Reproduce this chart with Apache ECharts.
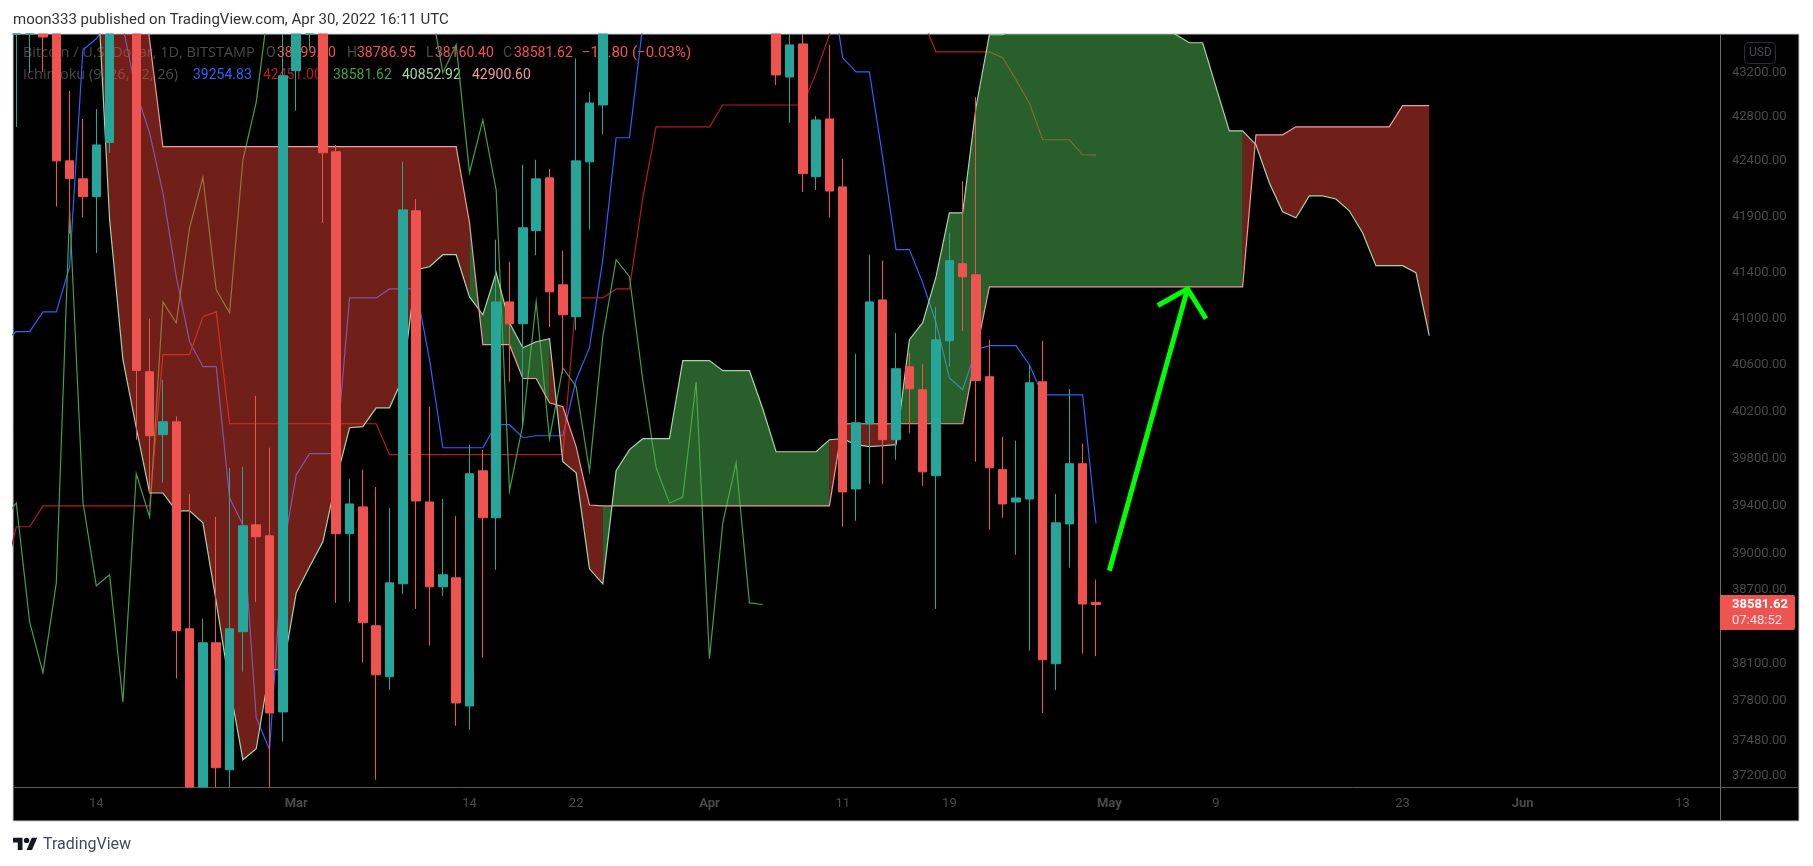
<!DOCTYPE html>
<html><head><meta charset="utf-8"><style>html,body{margin:0;padding:0;background:#fff;overflow:hidden}#c{width:1813px;height:866px}</style>
<script src="https://cdn.jsdelivr.net/npm/echarts@6/dist/echarts.min.js"></script></head>
<body><div id="c"></div>
<script>
// day 0 = 2022-02-07; candle and line arrays are positional by day
const openP=[43700,43650,43650,43900,43900,42400,42238,42078,42566,44000,
44000,40540,40001,40111,38383,37000,38269,37249,38359,39241,
39150,37710,43221,44000,43700,42482,39167,39391,38408,37993,
38752,41952,39432,38727,38802,37758,39695,39300,41147,40956,
41775,42247,41297,41017,42391,42907,44000,44350,44500,46850,
47100,47450,47060,45530,46300,45830,46450,46620,45500,43163,
43468,42258,42780,42166,39542,40094,41164,39958,40583,40385,
39653,40808,41483,41385,40497,39704,39432,39457,40454,38099,
39249,39755,38599.30];
const closeP=[44000,43750,43800,43532,42400,42240,42078,42544,43650,43800,
40552,39992,40111,38367,37000,38269,37265,38383,39233,39142,
37702,43175,43900,43700,42473,39167,39416,38432,38009,38760,
41960,39441,38727,38827,37782,39670,39300,41147,40956,41801,
42238,41235,41034,42400,42925,43700,44350,44500,46850,47100,
47450,47060,45530,46300,45830,46450,46620,45500,43182,43459,
42285,42771,42129,39517,40103,41147,39958,40566,40393,39686,
40817,41509,41367,40463,39720,39416,39466,40445,38131,39258,
39755,38586,38581.62];
const lowP=[43650,42708,43200,43209,41990,41750,41892,41577,42473,43620,
39958,39508,39596,37979,36900,36900,37000,37000,38034,38603,
37000,37472,42855,43410,41845,38595,38603,38107,37170,37887,
38669,38546,38245,38652,37599,37567,38147,38868,40454,40069,
41557,40927,40523,40900,41783,42640,43600,44100,44400,46700,
46950,46550,45200,44200,45600,45500,45100,45400,43090,42744,
42120,42138,41890,39225,39275,39585,39585,39788,40018,39568,
38546,40583,40893,39771,39200,39300,38992,38204,37702,37887,
38885,38180,38160.40];
const highP=[44500,43900,44000,44200,44100,43035,42780,42870,44000,44200,
44300,41000,40471,40156,39500,38465,39307,39720,39729,40333,
39890,43800,44100,44200,43900,42544,39623,39704,39559,39383,
42393,42058,40239,39457,39316,39916,39873,41695,41500,42365,
42410,42328,41598,43335,43024,44100,45100,44800,46900,48200,
48100,47700,47600,46700,47200,47000,47100,47200,45700,43700,
43700,42807,43459,42418,40696,41557,41509,40876,40705,40609,
41103,41757,42217,42979,40817,39983,39950,40601,40808,39500,
40393,39925,38786.95];
const tenkan=[40800,40887,40887,41060,41060,41456,43414,43516,43691,43627,
43026,42654,42112,41368,40800,40584,40584,39466,39242,37663,
37408,39009,39661,39840,39840,39840,41182,41182,41182,41261,
41261,41261,40644,39890,39890,39890,39890,40086,40086,39975,
39992,39992,39992,40471,40748,41518,42609,42609,43645,44100,
44900,45400,45700,46000,46200,46200,46200,46200,46000,45800,
45300,44700,44150,43340,43211,43211,42428,41607,41607,41314,
40965,40487,40385,40731,40766,40766,40766,40601,40341,40341,
40341,40341,39254.83];
const kijun=[38760,39225,39225,39399,39399,39399,39399,39399,39399,39399,
39399,39399,40688,40688,40688,41017,41060,40094,40094,40094,
40094,40094,40094,40094,40094,40094,40094,40094,40094,39831,
39831,39831,39831,39831,39831,39831,39831,39831,39831,39831,
39831,39831,39831,41182,41182,41182,41261,41261,42067,42708,
42708,42708,42708,42708,42907,42907,42907,42907,42907,42907,
42907,43201,43553,44000,44300,44300,44300,44300,44000,43691,
43395,43395,43395,43395,43395,43340,43137,42925,42591,42591,
42591,42455,42451.00];
const chikou=[39283,39424,38440,38025,38760,41960,39432,38735,38827,37790,
39670,39308,41147,40965,41801,42250,41253,41051,42410,42934,
43900,44200,44400,44600,44900,45100,44700,44300,44500,44800,
44600,44200,43900,43201,43460,42293,42771,42138,39525,40086,
41147,39967,40575,40411,39695,40844,41518,41368,40471,39721,
39424,39474,40454,38139,39258,39763,38595,38581.62];
const senkouA=[45500,45500,45300,45300,45000,44900,44700,44230,41872,40644,
40060,39508,39508,39358,39358,39258,38603,37920,37328,37416,
38050,38050,38677,38893,39100,39619,40060,40069,40230,40230,
40488,41430,41456,41562,41562,41190,41034,41403,40965,40748,
40800,40826,39772,39678,38876,38752,39695,39874,39967,39967,
39967,40636,40636,40636,40549,40549,40549,40222,39856,39856,
39856,39856,39958,39967,39916,39899,39907,39916,40817,40965,
41368,41934,41934,42889,43553,43553,43620,43650,43680,43700,
43720,43740,43750,43760,43750,43720,43680,43620,43553,43479,
43479,43072,42672,42672,42546,42203,41943,41890,42085,42085,
42058,41952,41757,41465,41465,41465,41403,40852.92];
const senkouB=[46000,46000,46000,45800,45800,45500,45500,45300,45000,45000,
44500,43506,42528,42528,42528,42528,42528,42528,42528,42528,
42528,42528,42528,42528,42528,42528,42528,42528,42528,42528,
42528,42528,42528,42528,42528,41845,40774,40774,40774,40482,
40482,40273,40239,39899,39407,39399,39399,39399,39399,39399,
39399,39399,39399,39399,39399,39399,39399,39399,39399,39399,
39399,39399,39399,40094,40094,40094,40094,40094,40094,40094,
40094,40094,40094,40705,41279,41279,41279,41279,41279,41279,
41279,41279,41279,41279,41279,41279,41279,41279,41279,41279,
41279,41279,41279,41279,42636,42636,42636,42708,42708,42708,
42708,42708,42708,42708,42708,42900.60,42900.60,42900.60];
const priceTicks=[43200,42800,42400,41900,41400,41000,40600,40200,39800,39400,39000,38700,38400,38100,37800,37480,37200];
const timeTickDates=['2022-02-14','2022-03-01','2022-03-14','2022-03-22','2022-04-01','2022-04-11','2022-04-19','2022-05-01','2022-05-09','2022-05-23','2022-06-01','2022-06-13'];
const timeTickLabels=['14','Mar','14','22','Apr','11','19','May','9','23','Jun','13'];
const monthLabels=['Mar','Apr','May','Jun'];
const arrowShaft=[['2022-05-01T00:00:00Z',38860],['2022-05-06T20:53:00Z',41261]];
const arrowHead=[['2022-05-04T15:22:00Z',41115],['2022-05-06T20:53:00Z',41261],['2022-05-08T06:00:00Z',41000]];

const DAY=864e5, T0=Date.UTC(2022,1,7), FONT='Roboto, sans-serif', WIDE='"Open Sans", sans-serif';
const Y_MIN=37112.7, Y_MAX=43559.9;
const dayOf=s=>(Date.parse(s)-T0)/DAY;
// candlestick marks are not cut at the pane edge, so the drawn candle stops at the axis range
const lim=v=>Math.max(Y_MIN,Math.min(Y_MAX,v));
const candles=openP.map((o,i)=>[i,lim(o),lim(closeP[i]),lim(lowP[i]),lim(highP[i])]).filter((c,i)=>lowP[i]<Y_MAX&&highP[i]>Y_MIN);
const pts=a=>a.map((v,i)=>[i,v]);
const tickDays=timeTickDates.map(d=>dayOf(d+'T00:00:00Z'));

// cloud: runs of consecutive segments of one colour, each segment coloured by its right end
const runs=[];
for(let k=0;k<senkouA.length-1;k++){
  const up=senkouA[k+1]>=senkouB[k+1];
  const last=runs[runs.length-1];
  if(last&&last.up===up) last.to=k+1; else runs.push({from:k,to:k+1,up});
}
function renderCloud(params,api){
  const r=runs[params.dataIndex],p=[];
  for(let k=r.from;k<=r.to;k++)p.push(api.coord([k,senkouA[k]]));
  for(let k=r.to;k>=r.from;k--)p.push(api.coord([k,senkouB[k]]));
  return {type:'polygon',shape:{points:p},style:{fill:r.up?'rgba(76,175,80,0.54)':'rgba(244,67,54,0.46)'}};
}
const lineS=(name,data,color,z,w)=>({name,type:'line',data,z,symbol:'none',showSymbol:false,silent:true,lineStyle:{color,width:w||1.2,cap:'butt',join:'miter'},clip:true,animation:false});
const txt=(x,y,s,fill,o)=>({type:'text',x,y,silent:true,style:Object.assign({text:s,fill,font:'14px '+FONT,textVerticalAlign:'middle'},o||{})});
const GREY='#4a4a4a',RED='#EF5350';
const L=(pp)=>pp.map(p=>[13+p[0]*0.68,835+p[1]*0.68]);
const chart=echarts.init(document.getElementById('c'),null,{renderer:'canvas'});
chart.setOption({
  animation:false,backgroundColor:'#fff',
  grid:{left:13,top:34,width:1707,height:753,containLabel:false,show:false},
  xAxis:{type:'value',min:0.7525,max:0.7525+128.06,z:1,scale:true,
    axisLine:{show:false},axisTick:{show:false},splitLine:{show:false},
    axisLabel:{customValues:tickDays,margin:10,color:GREY,fontFamily:FONT,fontSize:13,hideOverlap:false,
      rich:{b:{fontWeight:'bold',color:GREY,fontFamily:FONT,fontSize:13}},
      formatter:v=>{const s=timeTickLabels[tickDays.indexOf(+v)];return monthLabels.includes(s)?'{b|'+s+'}':s;}}},
  yAxis:{type:'log',position:'right',min:Y_MIN,max:Y_MAX,z:1,
    axisLine:{show:false},axisTick:{show:false},splitLine:{show:false},minorTick:{show:false},minorSplitLine:{show:false},
    axisLabel:{customValues:priceTicks,margin:12,color:GREY,fontFamily:FONT,fontSize:13,hideOverlap:false,formatter:v=>(+v).toFixed(2)}},
  graphic:{elements:[
    {type:'rect',z:0,silent:true,shape:{x:13,y:34,width:1786,height:787},style:{fill:'#000',stroke:'#c9cbd3',lineWidth:1}},
    {type:'line',z:0,silent:true,shape:{x1:13,y1:787.5,x2:1799,y2:787.5},style:{stroke:'#5a5a5a',lineWidth:1}},
    {type:'line',z:0,silent:true,shape:{x1:1720.5,y1:34,x2:1720.5,y2:821},style:{stroke:'#6a6a6a',lineWidth:1}},
    txt(13,20,'moon333 published on TradingView.com, Apr 30, 2022 16:11 UTC','#333',{font:'15px '+FONT}),
    txt(23,53,'Bitcoin / U.S. Dollar, 1D, BITSTAMP',GREY,{font:'14.5px '+WIDE}),
    txt(266,53,'O',GREY),txt(277,53,'38599.30',RED),
    txt(347,53,'H',GREY),txt(357,53,'38786.95',RED),
    txt(426,53,'L',GREY),txt(435,53,'38160.40',RED),
    txt(503,53,'C',GREY),txt(514,53,'38581.62',RED),
    txt(582,53,'−11.80 (−0.03%)',RED,{font:'15px '+FONT}),
    txt(23,75,'Ichimoku (9, 26, 52, 26)',GREY,{font:'14.5px '+WIDE}),
    txt(193,75,'39254.83','#2962FF'),txt(263,75,'42451.00','#B71C1C'),txt(333,75,'38581.62','#43A047'),
    txt(402,75,'40852.92','#A5D6A7'),txt(472,75,'42900.60','#EF9A9A'),
    {type:'rect',z:0,silent:true,shape:{x:1744.5,y:42.5,width:31,height:21,r:4},style:{fill:'#000',stroke:'#2a2e39',lineWidth:1}},
    txt(1749,53,'USD',GREY,{font:'12px '+FONT}),
    {type:'rect',z:20,silent:true,shape:{x:1720,y:595,width:75,height:35,r:[0,2,2,0]},style:{fill:RED}},
    Object.assign(txt(1732,605,'38581.62','#fff',{font:'bold 13px '+FONT}),{z:21}),
    Object.assign(txt(1732,621,'07:48:52','#fde3e2',{font:'13px '+FONT}),{z:21}),
    {type:'polygon',silent:true,shape:{points:L([[0,4],[14,4],[14,22],[7,22],[7,11],[0,11]])},style:{fill:'#131722'}},
    {type:'polygon',silent:true,shape:{points:L([[20,22],[27.5,4],[35.5,4],[28,22]])},style:{fill:'#131722'}},
    {type:'circle',silent:true,shape:{cx:26.6,cy:840.4,r:2.72},style:{fill:'#131722'}},
    txt(43,845,'TradingView','#444a58',{font:'16px '+FONT})
  ]},
  series:[
    lineS('Conversion',pts(tenkan),'#2962FF',2),
    lineS('Base',pts(kijun),'#B71C1C',2),
    lineS('Lagging',pts(chikou),'#43A047',2),
    {name:'Cloud',type:'custom',z:3,clip:true,silent:true,renderItem:renderCloud,
      data:runs.map(r=>[r.from,senkouA[r.from]]),encode:{x:0,y:1}},
    lineS('Lead 1',pts(senkouA),'#A5D6A7',4),
    lineS('Lead 2',pts(senkouB),'#EF9A9A',4),
    {name:'BTCUSD',type:'candlestick',z:5,silent:true,clip:true,barWidth:9,data:candles,encode:{x:0,y:[1,2,3,4]},
      itemStyle:{color:'#26A69A',color0:RED,borderColor:'#26A69A',borderColor0:RED,borderWidth:1}},
    lineS('Arrow shaft',arrowShaft.map(p=>[dayOf(p[0]),p[1]]),'#00FF00',6,5),
    lineS('Arrow head',arrowHead.map(p=>[dayOf(p[0]),p[1]]),'#00FF00',6,5)
  ]
});
</script></body></html>
